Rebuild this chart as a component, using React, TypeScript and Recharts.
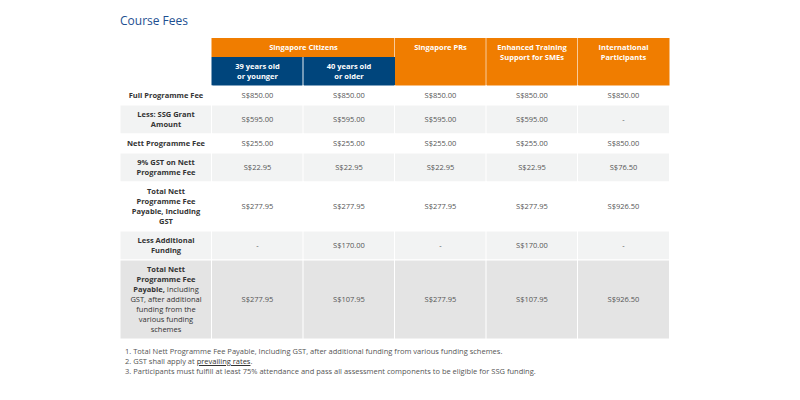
import { BarChart, Bar, XAxis, YAxis } from 'recharts'

const FONT = '"Open Sans", sans-serif'
const ORANGE = '#f07d00'
const BLUE = '#00457c'

// table content: "|" breaks a line, text before "_" in a label line is bold
const columnKeys = ['label', 'sc39', 'sc40', 'pr', 'sme', 'intl']
const groupHeaders = ['', 'Singapore Citizens', '', 'Singapore PRs', 'Enhanced Training|Support for SMEs', 'International|Participants']
const subHeaders = ['', '39 years old|or younger', '40 years old|or older', '', '', '']

const rowLabels = [
  'Full Programme Fee',
  'Less: SSG Grant|Amount',
  'Nett Programme Fee',
  '9% GST on Nett|Programme Fee',
  'Total Nett|Programme Fee|Payable, Including|GST',
  'Less Additional|Funding',
  'Total Nett|Programme Fee|Payable,_ Including|_GST, after additional|_funding from the|_various funding|_schemes',
]
const citizens39 = ['S$850.00', 'S$595.00', 'S$255.00', 'S$22.95', 'S$277.95', '-', 'S$277.95']
const citizens40 = ['S$850.00', 'S$595.00', 'S$255.00', 'S$22.95', 'S$277.95', 'S$170.00', 'S$107.95']
const prs = ['S$850.00', 'S$595.00', 'S$255.00', 'S$22.95', 'S$277.95', '-', 'S$277.95']
const smes = ['S$850.00', 'S$595.00', 'S$255.00', 'S$22.95', 'S$277.95', 'S$170.00', 'S$107.95']
const international = ['S$850.00', '-', 'S$850.00', 'S$76.50', 'S$926.50', '-', 'S$926.50']
const valueColumns = [citizens39, citizens40, prs, smes, international]

const footnotes = [
  '1. Total Nett Programme Fee Payable, Including GST, after additional funding from various funding schemes.',
  '2. GST shall apply at ',
  '3. Participants must fulfill at least 75% attendance and pass all assessment components to be eligible for SSG funding.',
]

const LINE = 10
const FS = 7.5
const lines = (s: string) => s.split('|')
const heightFor = (n: number) => n * LINE + 9

const groupH = heightFor(1)
const subH = heightFor(2)
const rowHeights = rowLabels.map(l => heightFor(lines(l).length))
const total = groupH + subH + rowHeights.reduce((a, b) => a + b, 0)

const data = columnKeys.map(key => {
  const d: Record<string, any> = { key, g: groupH, s: subH }
  rowHeights.forEach((h, r) => (d['r' + r] = h))
  return d
})

const box = (p: any) => ({
  x: p.x,
  y: Math.min(p.y, p.y + p.height),
  w: p.width,
  h: Math.abs(p.height),
})

function TextLines({ cx, cy, text, fill, bold }: { cx: number; cy: number; text: string; fill: string; bold: boolean }) {
  return (
    <text textAnchor="middle" fontFamily={FONT} fontSize={FS} fill={fill}>
      {lines(text).map((l, i) => {
        const [a, b] = l.includes('_') ? l.split('_') : [l, '']
        return (
          <tspan key={i} x={cx} y={cy + i * LINE + FS * 0.36}>
            {a && <tspan fontWeight={bold ? 700 : 400}>{a}</tspan>}
            {b && <tspan fontWeight={400}>{b}</tspan>}
          </tspan>
        )
      })}
    </text>
  )
}

// group header row; columns without a sub header span both header rows
const groupShape = (p: any) => {
  const c = p.index
  const { x, y, w, h } = box(p)
  if (c === 0 || c === 2) return <g />
  const width = c === 1 ? w * 2 : w
  const height = subHeaders[c] || c === 1 ? h : h + (h * p.payload.s) / p.payload.g
  return (
    <g>
      <rect x={x} y={y} width={width} height={height} fill={ORANGE} />
      {c >= 3 && <line x1={x} x2={x} y1={y} y2={y + height} stroke="#fff" strokeOpacity={0.6} />}
      <TextLines cx={x + width / 2} cy={y + h / 2} text={groupHeaders[c]} fill="#fff" bold />
    </g>
  )
}

const subShape = (p: any) => {
  const c = p.index
  const { x, y, w, h } = box(p)
  if (!subHeaders[c]) return <g />
  return (
    <g>
      <rect x={x} y={y} width={w} height={h} fill={BLUE} />
      {c >= 2 && <line x1={x} x2={x} y1={y} y2={y + h} stroke="#fff" strokeOpacity={0.9} />}
      <TextLines cx={x + w / 2} cy={y + h / 2 - LINE / 2} text={subHeaders[c]} fill="#fff" bold />
    </g>
  )
}

const rowShape = (r: number) => (p: any) => {
  const c = p.index
  const { x, y, w, h } = box(p)
  const fill = r === rowLabels.length - 1 ? '#e4e4e4' : r % 2 ? '#f2f3f3' : '#fff'
  const text = c === 0 ? rowLabels[r] : valueColumns[c - 1][r]
  const n = lines(text).length
  return (
    <g>
      <rect x={x} y={y} width={w} height={h} fill={fill} stroke="#fff" strokeWidth={1} />
      <TextLines
        cx={x + w / 2}
        cy={y + h / 2 - ((n - 1) * LINE) / 2}
        text={text}
        fill={c === 0 ? '#333' : '#555'}
        bold={c === 0}
      />
    </g>
  )
}

export default function App() {
  const top = 38
  return (
    <div style={{ position: 'relative', width: 800, height: 400, background: '#fff', fontFamily: FONT }}>
      <style>{'body{margin:0}'}</style>
      <div
        style={{
          position: 'absolute',
          left: 120,
          top: 15,
          fontSize: 12,
          lineHeight: '12px',
          color: '#1d4f91',
        }}
      >
        Course Fees
      </div>
      <div style={{ position: 'absolute', left: 0, top: 0 }}>
        <BarChart
          width={800}
          height={400}
          data={data}
          margin={{ top, bottom: 400 - top - total, left: 120, right: 131 }}
          barCategoryGap={0}
          barGap={0}
        >
          <XAxis dataKey="key" type="category" hide />
          <YAxis type="number" domain={[0, total]} reversed hide />
          <Bar dataKey="g" stackId="t" shape={groupShape} isAnimationActive={false} />
          <Bar dataKey="s" stackId="t" shape={subShape} isAnimationActive={false} />
          {rowLabels.map((_, r) => (
            <Bar key={r} dataKey={'r' + r} stackId="t" shape={rowShape(r)} isAnimationActive={false} />
          ))}
        </BarChart>
      </div>
      <div
        style={{
          position: 'absolute',
          left: 125,
          top: 346,
          fontSize: FS,
          lineHeight: LINE + 'px',
          color: '#555',
          whiteSpace: 'nowrap',
        }}
      >
        <div>{footnotes[0]}</div>
        <div>
          {footnotes[1]}
          <span style={{ color: '#333', textDecoration: 'underline' }}>prevailing rates</span>.
        </div>
        <div>{footnotes[2]}</div>
      </div>
    </div>
  )
}
